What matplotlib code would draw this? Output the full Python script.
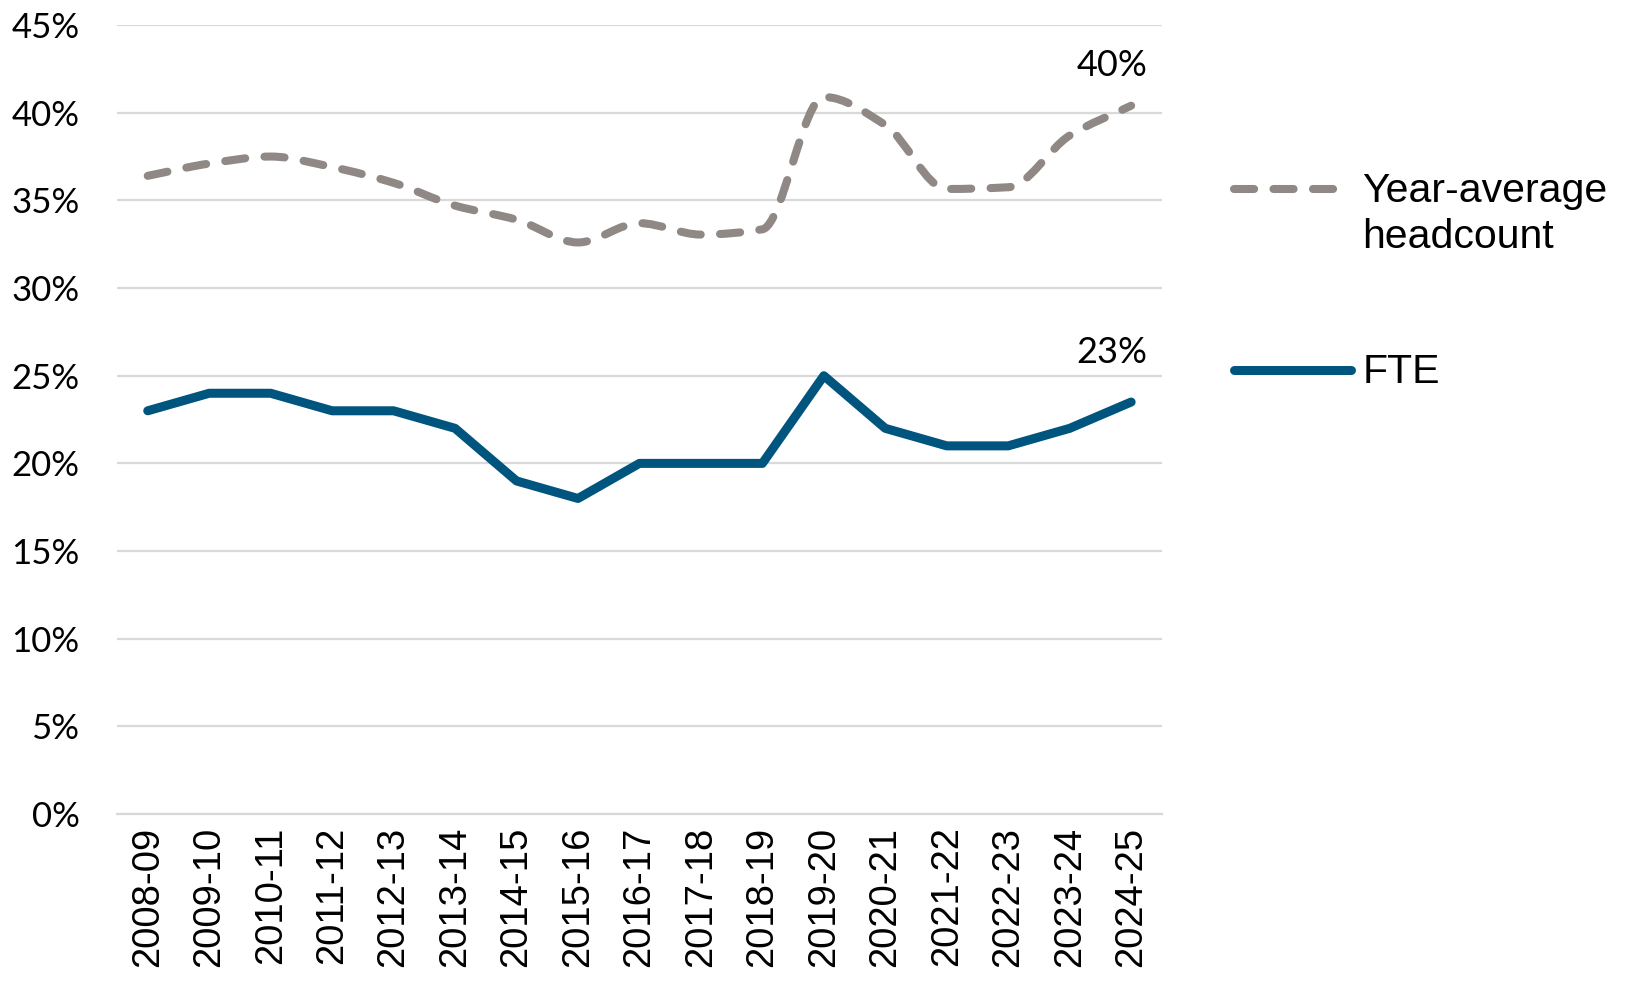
import numpy as np
import matplotlib
matplotlib.use("Agg")
import matplotlib.pyplot as plt
from matplotlib.path import Path
from matplotlib.patches import PathPatch
from matplotlib.lines import Line2D

# data
years = ["2008-09", "2009-10", "2010-11", "2011-12", "2012-13", "2013-14",
         "2014-15", "2015-16", "2016-17", "2017-18", "2018-19", "2019-20",
         "2020-21", "2021-22", "2022-23", "2023-24", "2024-25"]
headcount = [36.4, 37.1, 37.5, 36.9, 36.0, 34.7, 33.9, 32.6, 33.7, 33.05,
             33.35, 40.9, 39.3, 35.65, 35.75, 38.7, 40.4]
fte = [23, 24, 24, 23, 23, 22, 19, 18, 20, 20, 20, 25, 22, 21, 21, 22, 23.5]
end_labels = ["40%", "23%"]

grey = "#8F8884"
blue = "#00557F"
grid_c = "#D9D9D9"

fig = plt.figure(figsize=(16.25, 9.82), dpi=100)
ax = fig.add_axes([0.072, 0.171, 0.643, 0.8035])

x = np.arange(len(years))


# smoothed line drawn as bezier segments through the points
# (shape preserving tangents, so no overshoot at sharp turns)
def smooth_path(xs, ys):
    xs = np.asarray(xs, float)
    ys = np.asarray(ys, float)
    sec = np.diff(ys) / np.diff(xs)
    m = np.zeros_like(ys)
    m[0], m[-1] = sec[0], sec[-1]
    for i in range(1, len(ys) - 1):
        a, b = sec[i - 1], sec[i]
        if a * b > 0:
            m[i] = 2 / (1 / a + 1 / b)
    verts = [(xs[0], ys[0])]
    codes = [Path.MOVETO]
    for i in range(len(ys) - 1):
        h = xs[i + 1] - xs[i]
        verts += [(xs[i] + h / 3, ys[i] + m[i] * h / 3),
                  (xs[i + 1] - h / 3, ys[i + 1] - m[i + 1] * h / 3),
                  (xs[i + 1], ys[i + 1])]
        codes += [Path.CURVE4] * 3
    return Path(verts, codes)


hc_patch = PathPatch(smooth_path(x, headcount), fill=False, edgecolor=grey,
                     lw=5.8, linestyle=(0, (2.5, 2.4)), capstyle="round",
                     joinstyle="round", zorder=3)
ax.add_patch(hc_patch)
ax.plot(x, fte, color=blue, lw=6.5, solid_capstyle="round",
        solid_joinstyle="round", zorder=3)

ax.text(x[-1] - 0.31, headcount[-1] + 2.3, end_labels[0], fontsize=26,
        family="Lato", ha="center", va="center")
ax.text(x[-1] - 0.31, fte[-1] + 2.8, end_labels[1], fontsize=26,
        family="Lato", ha="center", va="center")

ax.set_xlim(-0.5, len(years) - 0.5)
ax.set_ylim(0, 45)
ax.set_yticks(np.arange(0, 46, 5))
ax.set_yticklabels([f"{v}%" for v in range(0, 46, 5)], fontsize=25,
                   family="Lato")
ax.set_xticks(x)
ax.set_xticklabels(years, rotation=90, fontsize=27.5, family="Liberation Sans")
ax.tick_params(axis="y", length=0, pad=27)
ax.tick_params(axis="x", length=0, pad=9)
ax.grid(axis="y", color=grid_c, lw=1.6, zorder=0)
for s in ["top", "right", "left"]:
    ax.spines[s].set_visible(False)
ax.spines["bottom"].set_color(grid_c)
ax.spines["bottom"].set_linewidth(1.6)
ax.set_axisbelow(True)

# legend drawn by hand so the handle sits on the first text line
fig.add_artist(Line2D([0.7595, 0.821], [0.8075, 0.8075], transform=fig.transFigure,
                      color=grey, lw=5.8, linestyle=(0, (2.5, 2.4)),
                      dash_capstyle="round"))
fig.text(0.8385, 0.7943, "Year-average", fontsize=29.5,
         family="Liberation Sans", va="baseline", ha="left")
fig.text(0.8385, 0.7475, "headcount", fontsize=29.5,
         family="Liberation Sans", va="baseline", ha="left")
fig.add_artist(Line2D([0.7595, 0.8315], [0.6232, 0.6232], transform=fig.transFigure,
                      color=blue, lw=6.5, solid_capstyle="round"))
fig.text(0.8385, 0.61, "FTE", fontsize=29.5, family="Liberation Sans",
         va="baseline", ha="left")

fig.savefig("out.png", dpi=100)
